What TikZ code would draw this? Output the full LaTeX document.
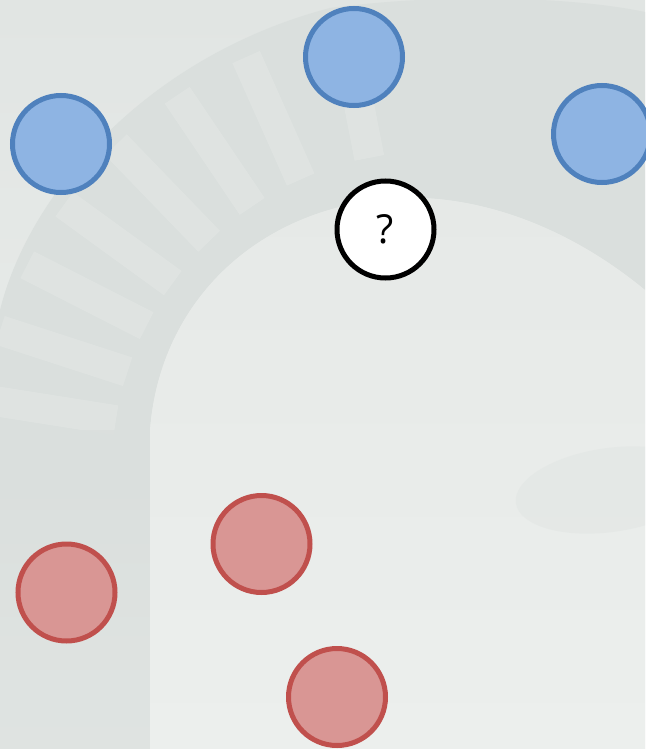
\documentclass[tikz,border=0pt]{standalone}
\usepackage{fontspec}
\setmainfont{Open Sans}
\usetikzlibrary{calc}
\definecolor{bgtop}{HTML}{E1E5E3}
\definecolor{bgbot}{HTML}{ECEFED}
\definecolor{bandc}{HTML}{DADFDD}
\definecolor{bandlow}{HTML}{E1E5E3}
\definecolor{ribc}{HTML}{E1E5E3}
\definecolor{facec}{HTML}{E6E9E7}
\definecolor{bluefill}{HTML}{8EB4E3}
\definecolor{bluedraw}{HTML}{4F81BD}
\definecolor{redfill}{HTML}{D99694}
\definecolor{reddraw}{HTML}{C0504D}
\tikzset{
  dot/.style={circle, line width=5pt, minimum size=97pt, inner sep=0pt},
  bluedot/.style={dot, draw=bluedraw, fill=bluefill},
  reddot/.style={dot, draw=reddraw, fill=redfill},
  qdot/.style={dot, draw=black, fill=white, font=\fontsize{40}{44}\selectfont},
}
\begin{document}
\begin{tikzpicture}[x=1pt,y=-1pt]
\useasboundingbox (0,0) rectangle (645,749);
\begin{scope}
\clip (0,0) rectangle (645,749);
% background watermark
\shade[top color=bgtop, bottom color=bgbot] (0,0) rectangle (645,749);
\path[fill=bandc] (0,749) -- (0,310) .. controls (30,190) and (150,55) .. (330,8)
  .. controls (450,-8) and (580,-2) .. (645,12) -- (645,290)
  .. controls (560,220) and (470,195) .. (400,198)
  .. controls (260,205) and (160,300) .. (150,430) -- (178,749) -- cycle;
\coordinate (C) at (430,470);
\begin{scope}
\clip (0,749) -- (0,310) .. controls (30,190) and (150,55) .. (330,8)
  .. controls (450,-8) and (580,-2) .. (645,12) -- (645,290)
  .. controls (560,220) and (470,195) .. (400,198)
  .. controls (260,205) and (160,300) .. (150,430) -- (178,749) -- cycle;
\foreach \a in {-101,-114,-124,-134,-144,-153,-162,-171}{
  \draw[ribc, line width=30pt, opacity=0.8] ($(C)+(\a:318)$) -- ($(C)+(\a:452)$);
}
\shade[top color=bandc, bottom color=bandlow, opacity=0.8] (0,430) rectangle (180,749);
\end{scope}
\begin{scope}
\clip (150,749) -- (150,430) .. controls (160,300) and (260,205) .. (400,198)
  .. controls (470,195) and (560,220) .. (645,290) -- (645,749) -- (178,749) -- cycle;
\shade[top color=facec, bottom color=bgbot] (140,190) rectangle (645,749);
\end{scope}
\path[fill=bandc, opacity=0.3, rotate around={8:(610,490)}] (610,490) ellipse [x radius=95pt, y radius=42pt];
\end{scope}
% nodes
\node[bluedot] (b1) at (61,144) {};
\node[bluedot] (b2) at (354,57) {};
\node[bluedot] (b3) at (602,134) {};
\node[qdot] (q) at (385.5,229.5) {?};
\node[reddot] (r1) at (261.5,544) {};
\node[reddot] (r2) at (66.5,592.5) {};
\node[reddot] (r3) at (337,697) {};
\end{tikzpicture}
\end{document}
